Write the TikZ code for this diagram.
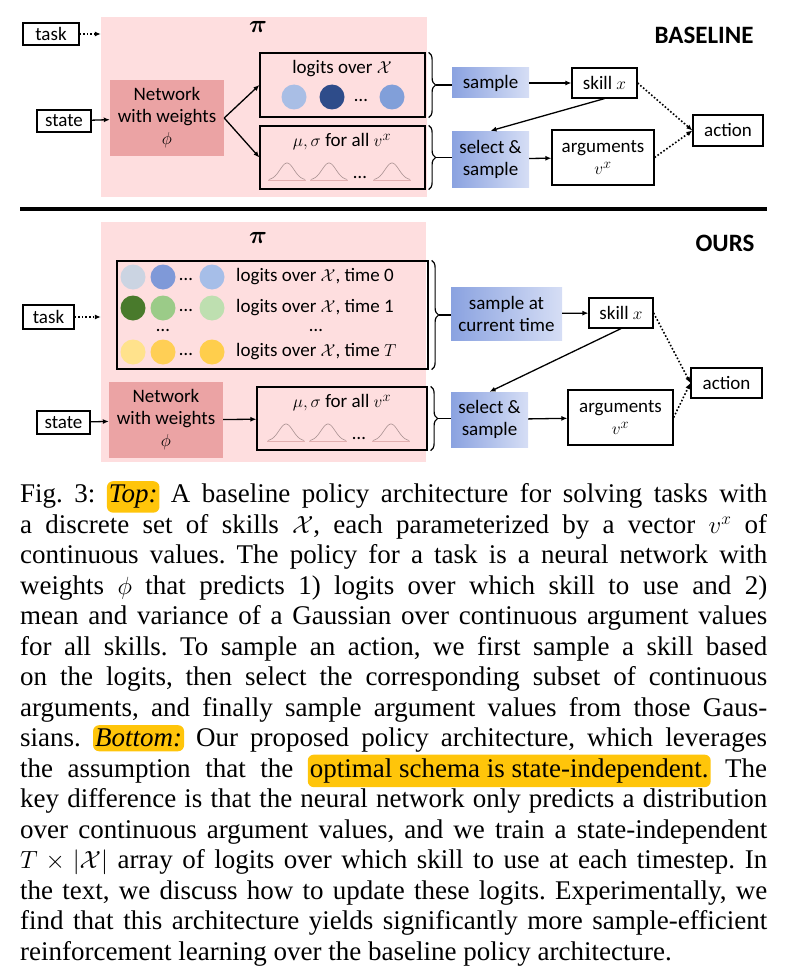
\documentclass[tikz,border=0pt]{standalone}
\usepackage{fontspec}
\usepackage{amsmath,amssymb}
\usetikzlibrary{arrows.meta,decorations.pathreplacing}
\setmainfont{Carlito}
\newfontfamily\capfont{Liberation Serif}

\definecolor{pinkbg}{HTML}{FEDEDF}
\definecolor{netpink}{HTML}{EBA3A4}
\definecolor{blueL}{HTML}{8AA2E0}
\definecolor{blueR}{HTML}{D6DEF5}
\definecolor{hl}{HTML}{FFC50A}
\definecolor{gcol}{HTML}{A89090}
\definecolor{gbase}{HTML}{E2AFB0}
% logit circles
\definecolor{ca}{HTML}{A9BEE5}
\definecolor{cb}{HTML}{2E4C8A}
\definecolor{cc}{HTML}{819FD9}
\definecolor{raa}{HTML}{CBD4E2}
\definecolor{rab}{HTML}{7F99D8}
\definecolor{rac}{HTML}{A6BEE8}
\definecolor{rba}{HTML}{497A2C}
\definecolor{rbb}{HTML}{9BCB88}
\definecolor{rbc}{HTML}{BEDFB0}
\definecolor{rca}{HTML}{FFE28C}
\definecolor{rcb}{HTML}{FFCF55}
\definecolor{rcc}{HTML}{FFCE4C}

\newcommand\diagfont{\fontsize{19}{22}\selectfont}
\newcommand\gausscurve[2]{%
  \draw[gbase,line width=0.6pt] ({#1-19},#2) -- ({#1+19},#2);
  \draw[gcol,line width=0.6pt] plot[domain=-2.6:2.6,samples=40,smooth] ({#1+\x*7},{#2-17*exp(-\x*\x/2)});}
\newcommand\hlt[1]{\tikz[baseline=(h.base)]\node[hlnode](h){#1};}

\tikzset{
  box/.style={draw=black,line width=1.2pt,align=center,inner sep=0pt,font=\diagfont},
  netbox/.style={fill=netpink,align=center,inner sep=0pt,font=\diagfont},
  bluebox/.style={left color=blueL,right color=blueR,align=center,inner sep=0pt,font=\diagfont},
  region/.style={fill=pinkbg,inner sep=0pt},
  lbl/.style={inner sep=0pt,font=\diagfont},
  arr/.style={line width=1.3pt,-{Latex[length=6pt,width=5pt]}},
  dotarr/.style={line width=1.6pt,dotted,-{Latex[length=6pt,width=5pt]}},
  curly/.style={line width=1.2pt,decorate,decoration={brace,amplitude=7pt}},
  hlnode/.style={fill=hl,rounded corners=6pt,inner xsep=2pt,inner ysep=4pt,text width={}}
}

\begin{document}
\begin{tikzpicture}[x=1pt,y=-1pt]
\useasboundingbox (0,0) rectangle (787,971);

% top: baseline
\node[region,minimum width=326,minimum height=180](polA) at (264,107) {};
\node[lbl,font=\fontsize{28}{30}\selectfont\boldmath](piA) at (258,27) {$\pi$};
\node[lbl,font=\fontsize{25}{28}\selectfont\bfseries](baseline) at (704,35) {BASELINE};

\node[box,minimum width=56,minimum height=22](task) at (51,34) {task};
\node[box,minimum width=54,minimum height=22](state) at (64,121) {state};
\node[netbox,minimum width=114,minimum height=76](net) at (167,118) {Network\\with weights\\$\phi$};
\node[box,minimum width=165,minimum height=64](logits) at (342.5,85) {};
\node[lbl](logitstxt) at (342,69) {logits over $\mathcal{X}$};
\fill[ca] (294,97) circle (12.5);
\fill[cb] (332,97) circle (12.5);
\node[lbl](ldots) at (361,100) {\dots};
\fill[cc] (392,97) circle (12.5);
\node[box,minimum width=165,minimum height=63](musig) at (342.5,157.5) {};
\node[lbl](musigtxt) at (342,142) {$\mu,\sigma$ for all $v^x$};
\gausscurve{287}{180}
\gausscurve{329}{180}
\node[lbl](gdots) at (360,177) {\dots};
\gausscurve{392}{180}

\node[bluebox,minimum width=77,minimum height=30](samp) at (490.5,83) {sample};
\node[box,minimum width=65,minimum height=30](skill) at (604.5,83) {skill $x$};
\node[bluebox,minimum width=77,minimum height=56](sel) at (490.5,159) {select \&\\sample};
\node[box,minimum width=102,minimum height=55](args) at (603,157.5) {arguments\\$v^x$};
\node[box,minimum width=70,minimum height=31](act) at (728,130.5) {action};

\path (task) edge[dotarr] (task -| polA.west);
\path (state) edge[arr] (net);
\path (net.east) edge[arr] (logits.west);
\path (net.east) edge[arr] (musig.west);
\draw[curly] ([xshift=3pt]logits.north east) -- ([xshift=3pt]logits.south east);
\draw[curly] ([xshift=3pt]musig.north east) -- ([xshift=3pt]musig.south east);
\coordinate (tipa) at ([xshift=10pt]logits.east);
\coordinate (tipb) at ([xshift=10pt]musig.east);
\draw[line width=1.2pt] (tipa) -- (tipa -| samp.west);
\draw[line width=1.2pt] (tipb) -- (tipb -| sel.west);
\path (samp) edge[arr] (skill);
\path (skill.south) edge[arr] (sel.north);
\path (sel) edge[arr] (args);
\path (skill.east) edge[dotarr] (act.west);
\path (args.east) edge[dotarr] (act.west);

\draw[line width=4pt] (20,209) -- (767,209);

% bottom: ours
\node[region,minimum width=325,minimum height=240](polB) at (263.5,342) {};
\node[lbl,font=\fontsize{28}{30}\selectfont\boldmath](piB) at (258,238) {$\pi$};
\node[lbl,font=\fontsize{25}{28}\selectfont\bfseries](ours) at (725,243) {OURS};

\node[box,minimum width=51,minimum height=24](task2) at (48.5,317) {task};
\node[box,minimum width=53,minimum height=23](state2) at (63.5,422.5) {state};
\node[netbox,minimum width=114,minimum height=76](net2) at (166,420) {Network\\with weights\\$\phi$};
\node[box,minimum width=311,minimum height=108](grid) at (272.5,315) {};
\fill[raa] (133,277) circle (12.5);
\fill[rab] (163,277) circle (12.5);
\fill[rac] (212,277) circle (12.5);
\fill[rba] (133,308) circle (12.5);
\fill[rbb] (163,308) circle (12.5);
\fill[rbc] (212,308) circle (12.5);
\fill[rca] (133,352) circle (12.5);
\fill[rcb] (163,352) circle (12.5);
\fill[rcc] (212,352) circle (12.5);
\node[lbl](da) at (186,279) {\dots};
\node[lbl](db) at (186,310) {\dots};
\node[lbl](dc) at (186,354) {\dots};
\node[lbl](dd) at (163,330) {\dots};
\node[lbl,anchor=west](rowa) at (236,277) {logits over $\mathcal{X}$, time 0};
\node[lbl,anchor=west](rowb) at (236,308) {logits over $\mathcal{X}$, time 1};
\node[lbl](rowdots) at (316,330) {\dots};
\node[lbl,anchor=west](rowc) at (236,352) {logits over $\mathcal{X}$, time $T$};
\node[box,minimum width=170,minimum height=63](musig2) at (342,418.5) {};
\node[lbl](musigtxt2) at (342,403) {$\mu,\sigma$ for all $v^x$};
\gausscurve{286}{441}
\gausscurve{328}{441}
\node[lbl](gdots2) at (359,438) {\dots};
\gausscurve{391}{441}

\node[bluebox,minimum width=111,minimum height=53](samp2) at (506.5,313.5) {sample at\\current time};
\node[box,minimum width=64,minimum height=30](skill2) at (621,313) {skill $x$};
\node[bluebox,minimum width=77,minimum height=55](sel2) at (489.5,419.5) {select \&\\sample};
\node[box,minimum width=105,minimum height=55](args2) at (620.5,417.5) {arguments\\$v^x$};
\node[box,minimum width=71,minimum height=30](act2) at (726.5,383) {action};

\path (task2) edge[dotarr] (task2 -| polB.west);
\path (state2) edge[arr] (net2);
\path (net2) edge[arr] (musig2);
\draw[curly] ([xshift=3pt]grid.north east) -- ([xshift=3pt]grid.south east);
\draw[curly] ([xshift=3pt]musig2.north east) -- ([xshift=3pt]musig2.south east);
\coordinate (tipc) at ([xshift=10pt]grid.east);
\coordinate (tipd) at ([xshift=10pt]musig2.east);
\draw[line width=1.2pt] (tipc) -- (tipc -| samp2.west);
\draw[line width=1.2pt] (tipd) -- (tipd -| sel2.west);
\path (samp2) edge[arr] (skill2);
\path (skill2.south) edge[arr] (sel2.north);
\path (sel2) edge[arr] (args2);
\path (skill2.east) edge[dotarr] (act2.west);
\path (args2.east) edge[dotarr] (act2.west);

% caption
\node[anchor=north west,inner sep=0pt,text width=747pt,align=justify,
  font=\capfont\fontsize{27}{30.5}\selectfont\frenchspacing](caption) at (20,481) {%
Fig.~3: \hlt{\textit{Top:}} A baseline policy architecture for solving tasks with\linebreak
a discrete set of skills $\mathcal{X}$, each parameterized by a vector $v^x$ of\linebreak
continuous values. The policy for a task is a neural network with\linebreak
weights $\phi$ that predicts 1) logits over which skill to use and 2)\linebreak
mean and variance of a Gaussian over continuous argument values\linebreak
for all skills. To sample an action, we first sample a skill based\linebreak
on the logits, then select the corresponding subset of continuous\linebreak
arguments, and finally sample argument values from those Gaus-\linebreak
sians. \hlt{\textit{Bottom:}} Our proposed policy architecture, which leverages\linebreak
the assumption that the \hlt{optimal schema is state-independent.} The\linebreak
key difference is that the neural network only predicts a distribution\linebreak
over continuous argument values, and we train a state-independent\linebreak
$T\times|\mathcal{X}|$ array of logits over which skill to use at each timestep. In\linebreak
the text, we discuss how to update these logits. Experimentally, we\linebreak
find that this architecture yields significantly more sample-efficient\linebreak
reinforcement learning over the baseline policy architecture.};
\end{tikzpicture}
\end{document}
